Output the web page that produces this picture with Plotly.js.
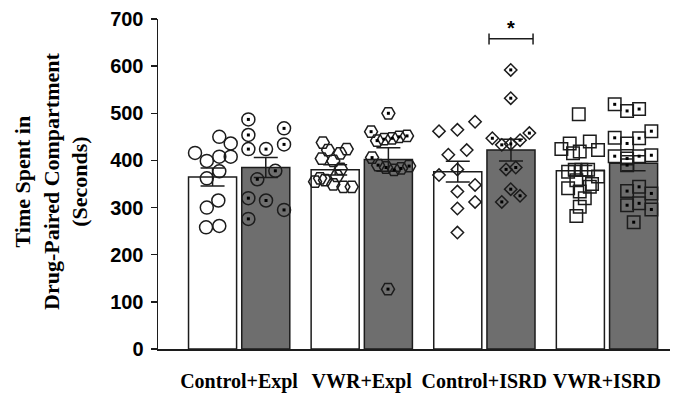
<!DOCTYPE html>
<html>
<head>
<meta charset="utf-8">
<script src="https://cdn.plot.ly/plotly-3.0.1.min.js"></script>
<style>html,body{margin:0;padding:0;background:#fff;}#chart{width:691px;height:393px;}</style>
</head>
<body>
<div id="chart"></div>
<script>
// Categories / tick labels
const categories = ["Control+Expl", "VWR+Expl", "Control+ISRD", "VWR+ISRD"];
const groupPos = [0, 1, 2, 3];

// Bar means and SEM
const meanWhite = [365, 380, 376, 378];
const semWhite  = [19, 11, 22, 11];
const meanGray  = [385, 402, 422, 394];
const semGray   = [21, 25, 23, 16];

// Individual points (x = position on axis, y = seconds)
const g1wX = [-0.161,-0.068,-0.359,-0.263,-0.161,-0.068,-0.161,-0.263,-0.169,-0.263,-0.161,-0.269];
const g1wY = [450,436,416,399,408,408,377,362,315,300,261,258];
const g1gX = [0.076,0.076,0.367,0.076,0.220,0.367,0.296,0.149,0.076,0.220,0.367,0.076];
const g1gY = [487,454,468,424,424,434,378,360,320,315,295,276];

const g2wX = [0.683,0.726,0.878,0.824,0.675,0.769,0.830,0.620,0.701,0.769,0.851,0.919,0.661,0.799];
const g2wY = [438,422,424,415,404,399,382,355,358,349,344,344,362,367];
const g2gX = [1.218,1.077,1.126,1.183,1.248,1.305,1.370,1.085,1.134,1.199,1.264,1.321,1.387,1.215];
const g2gY = [500,461,442,445,447,450,452,406,390,385,380,383,388,127];

const g3wX = [1.925,1.631,1.781,1.857,1.707,1.781,1.631,1.925,1.781,1.925,1.781,1.781];
const g3wY = [482,462,465,422,412,381,369,348,334,312,298,247];
const g3gX = [2.216,2.216,2.066,2.143,2.216,2.292,2.368,2.178,2.257,2.216,2.292,2.143];
const g3gY = [592,532,447,433,435,443,458,381,385,339,325,312];

const g4wX = [2.771,2.629,2.697,2.779,2.861,2.928,2.724,2.738,2.792,2.847,2.684,2.928,2.684,2.861,2.779,2.751,2.820,2.779,2.751,2.879];
const g4wY = [498,424,436,419,440,422,415,380,380,380,376,366,341,344,334,358,320,302,282,350];
const g4gX = [3.064,3.165,3.263,3.064,3.165,3.263,3.363,3.064,3.165,3.263,3.363,3.165,3.165,3.263,3.363,3.165,3.263,3.363,3.219];
const g4gY = [519,505,509,448,436,447,462,409,404,409,411,390,335,344,330,305,309,296,269];

// Significance
const sigX = [2.039, 2.398];
const sigY = 658;
const sigLabel = "*";

const lineCol = "#1c1c1c";
const grayFill = "#6e6e6e";

const traces = [];
traces.push({
  type: "bar", x: groupPos, y: meanWhite, width: 0.392, offset: -0.412,
  marker: {color: "#ffffff", line: {color: lineCol, width: 1.5}},
  error_y: {type: "data", array: semWhite, visible: true, color: lineCol, thickness: 1.5, width: 12},
  hoverinfo: "skip"
});
traces.push({
  type: "bar", x: groupPos, y: meanGray, width: 0.392, offset: 0.022,
  marker: {color: grayFill, line: {color: lineCol, width: 1.5}},
  error_y: {type: "data", array: semGray, visible: true, color: lineCol, thickness: 1.5, width: 12},
  hoverinfo: "skip"
});

function pts(x, y, symbol, size) {
  return {type: "scatter", mode: "markers", x: x, y: y, cliponaxis: false,
    marker: {symbol: symbol, size: size, color: lineCol, line: {color: lineCol, width: 1.5}}};
}
function dots(x, y) {
  return {type: "scatter", mode: "markers", x: x, y: y, cliponaxis: false,
    marker: {symbol: "square", size: 3, color: "#000", line: {width: 0}}};
}
traces.push(pts(g1wX, g1wY, "circle-open", 13));
traces.push(pts(g1gX, g1gY, "circle-open", 13));
traces.push(dots(g1gX, g1gY));
traces.push(pts(g2wX, g2wY, "hexagon2-open", 13));
traces.push(pts(g2gX, g2gY, "hexagon2-open", 13));
traces.push(dots(g2gX, g2gY));
traces.push(pts(g3wX, g3wY, "diamond-open", 9.5));
traces.push(pts(g3gX, g3gY, "diamond-open", 9.5));
traces.push(dots(g3gX, g3gY));
traces.push(pts(g4wX, g4wY, "square-open", 12.5));
traces.push(pts(g4gX, g4gY, "square-open", 12.5));
traces.push(dots(g4gX, g4gY));

const layout = {
  width: 691, height: 393,
  margin: {l: 158, r: 21, t: 19, b: 44},
  paper_bgcolor: "#fff", plot_bgcolor: "#fff",
  showlegend: false,
  barmode: "overlay",
  xaxis: {
    range: [-0.661, 3.515], tickvals: groupPos, ticktext: categories,
    showgrid: false, zeroline: false, showline: true, linecolor: lineCol, linewidth: 1.5,
    ticks: "", ticklabelstandoff: 13,
    tickfont: {family: "Liberation Serif, Times New Roman, serif", size: 20, color: "#000", weight: "bold"}
  },
  yaxis: {
    range: [0, 700], tickvals: [0,100,200,300,400,500,600,700],
    showgrid: false, zeroline: false, showline: true, linecolor: lineCol, linewidth: 1.5,
    ticks: "outside", ticklen: 6, tickwidth: 1.5, tickcolor: lineCol, ticklabelstandoff: 3,
    tickfont: {family: "Liberation Sans, Arial, sans-serif", size: 20, color: "#000", weight: "bold"}
  },
  shapes: [
    {type: "line", xref: "x", yref: "y", x0: sigX[0], x1: sigX[1], y0: sigY, y1: sigY, line: {color: lineCol, width: 1.5}},
    {type: "line", xref: "x", yref: "y", x0: sigX[0], x1: sigX[0], y0: sigY - 12, y1: sigY + 11, line: {color: lineCol, width: 1.5}},
    {type: "line", xref: "x", yref: "y", x0: sigX[1], x1: sigX[1], y0: sigY - 12, y1: sigY + 11, line: {color: lineCol, width: 1.5}}
  ],
  annotations: [
    {xref: "x", yref: "y", x: (sigX[0] + sigX[1]) / 2, y: sigY - 5, yanchor: "bottom", showarrow: false,
     text: sigLabel, font: {family: "Liberation Sans, Arial, sans-serif", size: 20, color: "#000", weight: "bold"}},
    {xref: "paper", yref: "paper", x: (51 - 158) / 512, y: (349 - 182) / 330, xanchor: "center", yanchor: "middle",
     textangle: -90, showarrow: false,
     text: "Time Spent in<br>Drug-Paired Compartment<br>(Seconds)",
     font: {family: "Liberation Serif, Times New Roman, serif", size: 22, color: "#000", weight: "bold"}}
  ]
};

Plotly.newPlot("chart", traces, layout, {displayModeBar: false, staticPlot: true});
</script>
</body>
</html>
